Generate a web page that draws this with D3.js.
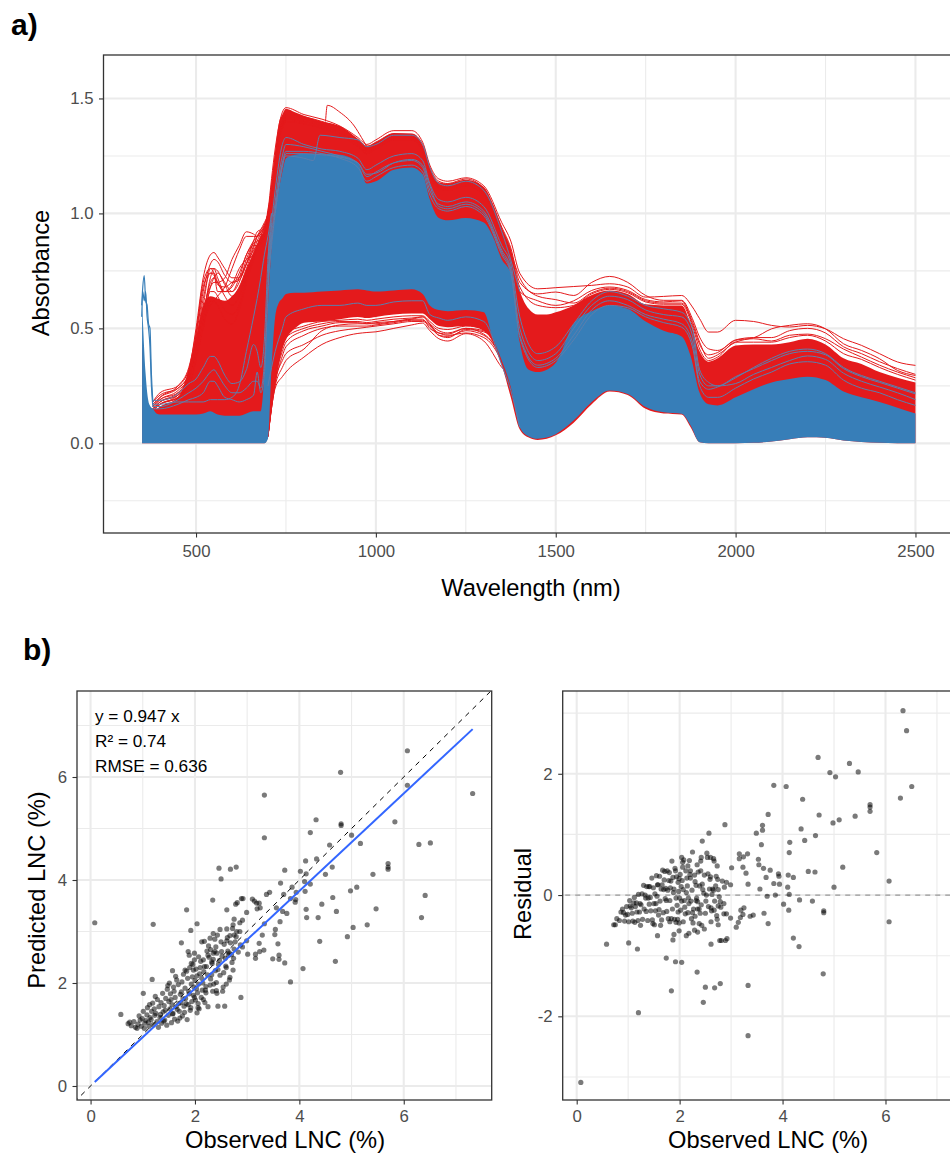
<!DOCTYPE html>
<html><head><meta charset="utf-8">
<script src="https://cdn.jsdelivr.net/npm/d3@7"></script>
<style>html,body{margin:0;padding:0;background:#fff;overflow:hidden}svg{display:block;font-family:"Liberation Sans",Arial,sans-serif}</style>
</head><body><svg id="c" width="950" height="1153"></svg>
<script>
// ---------- panel a: envelopes of the spectra ----------
const wavelength=[350,360,370,380,390,400,450,500,520,540,560,580,600,620,640,660,680,690,700,710,720,730,740,750,775,800,850,900,950,975,1000,1050,1100,1130,1150,1175,1200,1250,1300,1325,1350,1375,1400,1425,1450,1475,1500,1550,1600,1650,1700,1750,1800,1850,1875,1900,1925,1950,2000,2050,2100,2150,2200,2250,2300,2350,2400,2450,2500];
const redTop=[.45,.25,.16,.15,.15,.16,.20,.46,.60,.64,.63,.62,.64,.68,.76,.83,.90,.93,1.03,1.10,1.27,1.39,1.43,1.455,1.44,1.425,1.40,1.38,1.325,1.295,1.31,1.35,1.347,1.295,1.20,1.136,1.13,1.146,1.115,1.04,.94,.84,.665,.585,.56,.56,.57,.60,.645,.665,.65,.605,.60,.60,.52,.40,.355,.37,.425,.43,.43,.44,.455,.43,.37,.345,.31,.285,.265];
const redBase=[0,0,0,0,0,0,0,0,0,0,0,0,0,0,0,0,0,0,.03,.15,.26,.34,.41,.45,.50,.525,.53,.54,.55,.545,.55,.56,.565,.565,.54,.51,.505,.51,.49,.44,.34,.20,.06,.025,.015,.02,.035,.09,.17,.225,.21,.15,.13,.125,.07,.005,0,0,0,.002,.008,.018,.026,.024,.012,.006,.002,0,0];
const blueTop=[.62,.30,.17,.15,.13,.125,.125,.125,.13,.14,.125,.12,.12,.12,.13,.14,.14,.30,.60,.85,1.0,1.10,1.18,1.24,1.255,1.26,1.26,1.255,1.22,1.13,1.14,1.19,1.20,1.17,1.06,.98,.97,.98,.96,.90,.80,.74,.44,.32,.31,.32,.35,.52,.575,.60,.585,.53,.49,.465,.38,.22,.17,.165,.20,.235,.265,.28,.29,.275,.225,.20,.18,.155,.13];
const blueBase=[0,0,0,0,0,0,0,0,0,0,0,0,0,0,0,0,0,0,.02,.33,.55,.61,.63,.65,.655,.655,.66,.665,.67,.665,.66,.665,.67,.65,.60,.58,.575,.58,.57,.46,.36,.245,.07,.03,.02,.025,.04,.10,.18,.23,.215,.158,.135,.129,.078,.005,0,0,0,.002,.008,.018,.026,.024,.012,.006,.002,0,0];
// individual spectra, long range
const traceWl=[700,720,740,750,800,850,900,950,975,1000,1050,1100,1130,1150,1175,1200,1250,1300,1350,1375,1400,1450,1500,1550,1600,1650,1700,1750,1800,1850,1880,1900,1925,1950,2000,2050,2100,2150,2200,2250,2300,2350,2400,2450,2500];
const redHigh1=[1.0,1.28,1.44,1.46,1.43,1.41,1.38,1.33,1.30,1.32,1.36,1.36,1.31,1.21,1.15,1.14,1.155,1.12,.96,.88,.74,.672,.677,.682,.687,.694,.68,.636,.639,.643,.593,.542,.484,.484,.535,.53,.513,.506,.513,.498,.455,.426,.39,.354,.339];
const redHigh2=[.98,1.25,1.40,1.43,1.42,1.40,1.37,1.32,1.29,1.31,1.345,1.345,1.30,1.20,1.14,1.13,1.15,1.11,.94,.85,.70,.65,.658,.643,.70,.726,.70,.643,.622,.622,.542,.462,.411,.404,.448,.459,.498,.513,.52,.498,.433,.404,.368,.317,.295];
const redHigh3=[.96,1.24,1.39,1.42,1.41,1.39,1.36,1.31,1.28,1.30,1.34,1.34,1.29,1.19,1.13,1.12,1.14,1.10,.93,.84,.66,.62,.60,.62,.665,.68,.665,.625,.615,.62,.52,.43,.385,.395,.45,.46,.46,.49,.50,.48,.42,.39,.355,.325,.30];
const redHigh4=[.95,1.23,1.38,1.41,1.40,1.38,1.35,1.30,1.27,1.29,1.33,1.33,1.28,1.18,1.12,1.11,1.13,1.09,.92,.83,.72,.64,.625,.61,.655,.675,.66,.62,.61,.61,.53,.44,.37,.385,.44,.455,.445,.47,.475,.455,.41,.375,.34,.31,.285];
const redHigh5=[.94,1.22,1.37,1.40,1.39,1.37,1.34,1.29,1.26,1.28,1.32,1.32,1.27,1.17,1.11,1.10,1.12,1.08,.91,.82,.68,.60,.59,.60,.65,.67,.655,.615,.605,.605,.51,.41,.36,.375,.44,.44,.44,.46,.47,.445,.39,.365,.33,.30,.275];
const blueHigh1=[.80,1.10,1.30,1.33,1.30,1.28,1.27,1.24,1.19,1.21,1.25,1.26,1.23,1.13,1.06,1.05,1.07,1.03,.86,.78,.55,.39,.42,.52,.62,.66,.64,.60,.585,.57,.50,.32,.265,.25,.26,.30,.33,.36,.38,.365,.305,.27,.245,.22,.19];
const blueHigh2=[.75,1.05,1.25,1.30,1.29,1.27,1.25,1.22,1.16,1.18,1.22,1.23,1.20,1.10,1.04,1.03,1.05,1.01,.84,.76,.50,.36,.39,.50,.60,.64,.625,.58,.56,.55,.47,.30,.25,.25,.29,.325,.36,.39,.40,.385,.325,.29,.265,.24,.215];
const blueHigh3=[.72,1.02,1.22,1.27,1.27,1.26,1.24,1.20,1.14,1.16,1.20,1.21,1.18,1.08,1.02,1.01,1.03,.99,.82,.74,.47,.34,.37,.47,.58,.62,.60,.56,.54,.52,.44,.27,.235,.245,.285,.33,.37,.40,.41,.39,.33,.295,.27,.245,.22];
const blueHigh4=[.70,1.0,1.20,1.26,1.26,1.255,1.245,1.22,1.17,1.175,1.22,1.235,1.21,1.12,1.03,1.02,1.04,1.0,.83,.75,.46,.33,.36,.45,.56,.60,.59,.55,.525,.505,.42,.25,.20,.20,.24,.28,.31,.345,.355,.34,.275,.24,.22,.19,.165];
// low spectra 700-1400 nm
const lowWl=[700,720,740,750,800,850,900,950,975,1000,1050,1100,1130,1150,1175,1200,1250,1300,1350,1375,1400];
const redLow1=[.03,.24,.29,.31,.375,.43,.46,.478,.482,.485,.50,.515,.523,.49,.455,.445,.477,.445,.33,.285,.085];
const redLow2=[.03,.27,.36,.39,.43,.47,.49,.50,.505,.51,.52,.53,.53,.51,.47,.465,.49,.47,.36,.24,.08];
const redLow3=[.03,.29,.42,.46,.50,.52,.53,.53,.525,.53,.54,.545,.55,.52,.49,.48,.50,.49,.37,.25,.08];
const redLow4=[.03,.25,.33,.36,.41,.49,.515,.52,.52,.52,.53,.54,.54,.50,.48,.47,.48,.46,.35,.23,.08];
const redLow5=[.03,.30,.44,.48,.51,.53,.535,.54,.535,.54,.55,.555,.555,.53,.50,.495,.51,.50,.38,.24,.08];
const redLow6=[.03,.26,.38,.42,.47,.50,.51,.51,.51,.515,.525,.535,.535,.515,.48,.475,.50,.475,.36,.23,.08];
const redLow7=[.03,.28,.40,.44,.49,.51,.525,.525,.52,.525,.53,.54,.55,.52,.47,.46,.495,.485,.37,.24,.08];
const blueLow1=[.25,.40,.50,.55,.585,.60,.60,.61,.60,.60,.615,.62,.62,.56,.545,.535,.55,.53,.34,.23,.07];
// stepped spectra
const stepWl=[860,865,900,940,960,975];
const redStep=[1.40,1.47,1.44,1.38,1.33,1.29];
const blueStepWl=[720,750,800,826,845,900,950,975,1000,1050,1100,1130,1150,1175,1200,1250,1300,1350,1400];
const blueStep=[1.0,1.25,1.24,1.23,1.34,1.33,1.32,1.29,1.30,1.34,1.34,1.30,1.20,1.13,1.12,1.14,1.10,.92,.66];
// visible-range spectra
const shortWl=[380,400,450,480,500,520,540,550,560,580,600,620,640,660,670,680,690,700,710];
const redShort=[
[.18,.22,.25,.32,.50,.72,.82,.83,.81,.76,.72,.72,.78,.86,.90,.93,.96,1.0,1.1],
[.18,.21,.24,.30,.46,.66,.78,.80,.79,.73,.70,.71,.78,.88,.92,.93,.95,1.0,1.1],
[.16,.19,.22,.28,.44,.60,.76,.76,.75,.69,.64,.68,.76,.85,.90,.92,.94,.98,1.1],
[.15,.18,.21,.27,.40,.56,.70,.72,.70,.64,.60,.64,.74,.83,.88,.91,.93,.98,1.08],
[.15,.17,.20,.26,.38,.54,.66,.66,.64,.58,.56,.60,.72,.82,.86,.90,.92,.97,1.07],
[.14,.17,.20,.25,.36,.50,.62,.62,.60,.54,.52,.58,.70,.80,.85,.88,.90,.96,1.05],
[.15,.17,.21,.27,.38,.52,.60,.62,.64,.68,.76,.84,.90,.90,.90,.92,.94,.98,1.1],
[.17,.20,.24,.30,.42,.58,.68,.70,.70,.72,.80,.86,.92,.91,.90,.91,.94,.98,1.1],
[.16,.19,.23,.29,.43,.63,.74,.74,.70,.66,.68,.74,.82,.88,.90,.92,.95,1.0,1.1],
[.15,.18,.22,.30,.47,.68,.74,.73,.69,.68,.70,.72,.78,.84,.86,.88,.93,.98,1.08],
[.14,.17,.20,.25,.37,.52,.68,.72,.74,.70,.66,.72,.82,.86,.86,.87,.91,.97,1.07],
[.16,.20,.25,.33,.48,.70,.76,.74,.66,.66,.69,.76,.80,.82,.86,.90,.94,.99,1.1],
[.15,.18,.21,.26,.39,.55,.72,.76,.72,.66,.66,.70,.80,.87,.88,.89,.92,.97,1.07]];
const blueShort=[
[.187,.187,.216,.26,.28,.33,.378,.378,.36,.296,.26,.267,.32,.43,.40,.33,.45,.80,1.0],
[.16,.16,.19,.22,.24,.27,.31,.32,.30,.25,.22,.22,.24,.27,.27,.24,.35,.70,.95],
[.15,.15,.17,.19,.20,.22,.27,.27,.25,.20,.19,.18,.19,.21,.31,.22,.30,.65,.90],
[.17,.17,.18,.18,.18,.18,.19,.19,.19,.19,.20,.25,.40,.55,.63,.72,.82,.90,1.0]];
// UV spike
const spikeWl=[349,352,356,360,364,368,372,376,380];
const spikeA=[.60,.68,.73,.62,.60,.52,.50,.30,.18];
const spikeB=[.55,.66,.62,.66,.55,.50,.42,.25,.16];

// ---------- panel b: scatter data ----------
const observed=[6.07,4.79,6.07,7.32,3.33,4.32,5.83,4.80,4.80,4.21,5.00,3.33,5.17,6.29,6.51,4.58,4.33,4.12,5.70,5.70,5.70,4.63,2.46,2.68,2.79,2.50,3.72,4.02,4.13,4.50,5.41,3.64,4.10,4.21,3.86,4.11,3.94,3.43,3.37,3.70,5.10,4.98,6.41,4.64,3.83,3.93,3.92,2.34,2.81,2.78,2.89,2.92,3.10,3.14,3.18,3.23,3.19,3.25,4.43,3.56,4.13,5.47,4.71,3.68,3.76,2.61,1.84,2.99,6.34,4.14,4.36,2.75,2.91,
.08,1.20,2.04,5.30,5.03,4.92,4.39,4.69,4.07,3.83,2.88,3.72,3.61,3.61,3.49,3.32,3.24,3.16,3.16,3.01,3.59,3.53,3.54,3.23,2.99,3.29,3.33,3.63,1.92,1.74,2.13,2.18,2.48,2.35,2.43,2.29,2.38,2.61,2.67,2.75,2.80,2.86,2.72,2.86,2.73,2.61,
2.25,2.44,2.57,2.04,2.06,2.16,2.53,2.54,2.41,2.34,2.21,2.20,2.66,2.67,2.41,2.59,2.73,2.74,2.64,2.51,2.38,2.32,2.16,2.25,2.30,2.35,1.99,1.87,1.89,1.99,1.93,2.07,2.22,1.81,1.97,1.57,1.18,1.01,.58,
.72,.78,.75,.86,.83,.91,.89,.95,.93,.97,1.01,1.04,.99,1.03,1.08,1.06,1.12,1.09,1.14,1.11,1.17,1.13,1.20,1.16,1.23,1.19,1.27,1.22,1.30,1.25,1.33,1.28,1.36,1.31,1.24,1.39,1.35,1.42,1.38,1.46,1.41,1.34,1.49,1.44,1.52,1.47,1.40,1.55,1.50,1.43,1.58,1.53,1.61,1.48,1.56,1.64,1.59,1.51,1.67,1.62,1.70,1.54,1.65,1.73,1.60,1.76,1.68,1.57,1.79,1.63,1.72,1.82,1.69,1.85,1.75,1.66,1.88,1.78,1.91,1.81,1.71,1.94,1.84,1.74,1.97,1.87,1.77,2.00,1.90,1.80,2.03,1.93,1.83,2.06,1.96,1.86,2.09,1.99,1.89,2.12,2.02,1.92,2.15,2.05,1.95,2.18,2.08,1.98,2.21,2.11,2.01,2.24,2.14,2.04,2.27,2.17,2.07,2.30,2.19,2.10,2.33,2.23,2.13,2.36,2.26,2.39,2.29,2.42,2.32,2.45,2.35,2.48,2.40,2.52,2.44,2.56,2.47,2.60,2.50,2.63,2.55,2.68,2.58,2.71,2.62,2.75,2.66,2.79,2.70,2.83,2.77,2.87,2.91,2.42,2.60];
const predicted=[6.51,6.09,5.84,5.68,5.65,5.17,5.13,5.09,5.06,4.92,4.87,4.82,4.71,4.69,4.72,4.68,4.41,4.37,4.32,4.25,4.21,4.25,4.23,4.21,4.25,4.02,4.19,4.17,4.12,4.11,4.11,3.94,3.97,3.92,3.86,3.78,3.76,3.76,3.72,3.72,3.86,3.79,3.70,3.66,3.64,3.62,3.57,3.61,3.56,3.53,3.64,3.64,3.63,3.59,3.55,3.55,3.44,3.46,3.53,3.46,3.43,3.44,3.39,3.39,3.35,3.42,3.42,3.37,3.27,3.27,3.27,3.24,3.22,
3.17,3.14,3.15,3.13,3.08,2.90,2.81,2.42,2.28,2.02,1.72,2.39,2.46,2.54,2.47,2.64,2.61,2.48,2.56,2.56,2.76,2.94,3.04,2.77,2.82,2.93,3.15,3.19,3.02,2.78,2.80,2.81,3.04,2.96,2.93,2.87,2.85,2.82,2.92,2.93,3.00,3.00,3.06,3.17,3.13,3.05,
1.54,1.55,1.55,1.42,1.52,1.68,1.84,1.92,1.85,1.84,1.81,1.86,2.06,2.11,2.01,2.33,2.25,2.48,2.54,2.61,2.61,2.41,2.45,2.54,2.65,2.58,2.58,2.61,2.54,2.45,2.38,2.51,2.32,2.25,2.25,2.24,2.07,1.80,1.39,
1.21,1.17,1.24,1.14,1.25,1.20,1.12,1.28,1.36,1.16,1.45,1.22,1.31,1.12,1.38,1.27,1.16,1.52,1.33,1.24,1.45,1.58,1.19,1.29,1.37,1.61,1.25,1.50,1.14,1.41,1.33,1.68,1.22,1.54,1.74,1.44,1.62,1.28,1.80,1.18,1.56,1.39,1.37,1.70,1.50,1.88,1.26,1.23,1.64,1.47,1.41,1.79,1.30,1.95,1.58,1.54,1.92,2.00,1.26,1.72,1.45,1.68,2.06,1.62,1.84,1.36,1.97,1.40,1.55,2.13,1.78,1.70,1.60,1.29,2.02,1.49,1.84,2.17,1.47,1.90,1.32,1.64,2.23,1.83,1.76,1.58,1.69,2.05,2.30,1.43,1.89,1.98,1.60,1.60,2.36,2.09,2.18,1.72,1.79,1.72,2.27,1.52,2.00,1.81,2.12,2.32,1.50,1.92,1.93,2.42,1.67,2.16,1.86,2.14,2.50,2.22,1.98,2.08,1.62,2.30,2.38,2.62,2.09,1.98,2.72,2.24,1.96,2.58,2.16,2.36,2.46,2.15,2.70,2.52,2.26,2.75,2.44,2.30,2.80,2.62,2.20,2.78,2.48,2.40,2.88,2.66,2.58,2.90,2.55,2.60,2.80,2.74,2.70,1.80,1.98];
const residual=[-.44,-1.30,.23,1.64,-2.32,-.85,.70,-.29,-.26,-.71,.13,-1.49,.46,1.60,1.79,-.10,-.08,-.25,1.38,1.45,1.49,.38,-1.77,-1.53,-1.46,-1.52,-.47,-.15,.01,.39,1.30,-.30,.13,.29,0,.33,.18,-.33,-.35,-.02,1.24,1.19,2.71,.98,.19,.31,.35,-1.27,-.75,-.75,-.75,-.72,-.53,-.45,-.37,-.32,-.25,-.21,.90,.10,.70,2.03,1.32,.29,.41,-.81,-1.58,-.38,3.04,.87,1.09,-.49,-.31,
-3.09,-1.94,-1.11,2.17,1.95,2.02,1.58,2.27,1.79,1.81,1.16,1.33,1.15,1.07,1.02,.68,.63,.68,.60,.45,.83,.59,.50,.46,.17,.36,.18,.44,-1.10,-1.04,-.67,-.63,-.56,-.61,-.50,-.58,-.47,-.21,-.25,-.18,-.20,-.14,-.34,-.31,-.40,-.44,
.71,.89,1.02,.62,.54,.48,.69,.62,.56,.50,.40,.34,.60,.56,.40,.26,.48,.26,.10,-.10,-.23,-.09,-.29,-.29,-.35,-.23,-.59,-.74,-.65,-.46,-.45,-.44,-.10,-.44,-.28,-.67,-.89,-.79,-.81,
-.49,-.39,-.49,-.28,-.42,-.29,-.23,-.33,-.43,-.19,-.44,-.18,-.32,-.09,-.30,-.21,-.04,-.43,-.19,-.13,-.28,-.45,.01,-.13,-.14,-.42,.02,-.28,.16,-.16,0,-.40,.14,-.23,-.50,-.05,-.27,.14,-.42,.28,-.15,-.05,.12,-.26,.02,-.41,.14,.32,-.14,-.04,.17,-.26,.31,-.47,-.02,.10,-.33,-.49,.41,-.10,.25,-.14,-.41,.11,-.24,.40,-.29,.17,.24,-.50,-.06,.12,.09,.56,-.27,.17,.04,-.39,.44,-.09,.39,.30,-.39,-.09,.21,.29,.08,-.05,-.40,.37,.14,-.05,.23,.46,-.40,-.23,-.09,.27,.10,.40,-.25,.40,.15,.24,-.17,-.14,.58,.06,.28,-.31,.34,.08,.28,-.10,-.23,-.05,.09,.22,.57,-.20,-.05,-.39,.04,.38,-.46,.15,.33,-.16,.16,.09,-.11,.33,-.30,0,.18,-.19,.03,.30,-.30,.01,.35,-.10,.10,.31,-.26,.09,.08,-.11,.15,.23,-.03,.13,.21,.62,.62];
const fitObs=[.08,7.32];
const fitPred=[.076,6.93];
const oneToOne=[-1,9];

// ---------- ticks and labels ----------
const spectraXTicks=[500,1000,1500,2000,2500], spectraXMinor=[750,1250,1750,2250];
const spectraYTicks=[0,.5,1,1.5], spectraYMinor=[-.25,.25,.75,1.25];
const lncTicks=[0,2,4,6], lncMinor=[1,3,5,7];
const resTicks=[-2,0,2], resMinor=[-3,-1,1,3];
const statLines=["y = 0.947 x","R\u00b2 = 0.74","RMSE = 0.636"];

const RED="#E41A1C", BLUE="#377EB8", TRACE="#5b7fae";
const TITLE=23.7;
const svg=d3.select("#c");
const defs=svg.append("defs");
let clipId=0;

function panel(o){
  const x=d3.scaleLinear().domain(o.xd).range([o.l,o.r]);
  const y=d3.scaleLinear().domain(o.yd).range([o.b,o.t]);
  const id="clip"+(clipId++);
  defs.append("clipPath").attr("id",id).append("rect").attr("x",o.l).attr("y",o.t).attr("width",o.r-o.l).attr("height",o.b-o.t);
  const g=svg.append("g");
  const gl=(vals,w,isX)=>g.append("g").selectAll("line").data(vals).join("line")
    .attr("x1",d=>isX?x(d):o.l).attr("x2",d=>isX?x(d):o.r)
    .attr("y1",d=>isX?o.b:y(d)).attr("y2",d=>isX?o.t:y(d))
    .attr("stroke","#ebebeb").attr("stroke-width",w);
  gl(o.xMinor,1.1,true); gl(o.yMinor,1.1,false);
  gl(o.xTicks,2.1,true); gl(o.yTicks,2.1,false);
  const body=g.append("g").attr("clip-path",`url(#${id})`);
  const ax=d3.axisBottom(x).tickValues(o.xTicks).tickSize(4.5).tickPadding(o.pad).tickFormat(o.xf||d3.format("d"));
  const ay=d3.axisLeft(y).tickValues(o.yTicks).tickSize(4.5).tickPadding(5.5).tickFormat(o.yf||d3.format("d"));
  const after=()=>{
    const a1=svg.append("g").attr("transform",`translate(0,${o.b})`).call(ax);
    const a2=svg.append("g").attr("transform",`translate(${o.l},0)`).call(ay);
    [a1,a2].forEach(a=>{a.select(".domain").remove();
      a.selectAll("line").attr("stroke","#333").attr("stroke-width",1.1);
      a.selectAll("text").attr("fill","#4d4d4d").attr("font-size",16.8).attr("font-family","'Liberation Sans',Arial,sans-serif");});
    svg.append("rect").attr("x",o.l).attr("y",o.t).attr("width",o.r-o.l).attr("height",o.b-o.t)
      .attr("fill","none").attr("stroke","#333").attr("stroke-width",1.3);
  };
  return {x,y,body,after};
}
function label(t,x,y,size,opt={}){
  const e=svg.append("text").text(t).attr("font-size",size).attr("fill",opt.fill||"#000").attr("text-anchor",opt.anchor||"middle").attr("font-weight",opt.weight||"normal");
  if(opt.rot) e.attr("transform",`translate(${x},${y}) rotate(-90)`); else e.attr("x",x).attr("y",y);
}

// panel a
const pa=panel({l:103.5,r:1000,t:55,b:533,xd:[242.8,2735],yd:[-.39,1.689],pad:7.5,
  xTicks:spectraXTicks,xMinor:spectraXMinor,yTicks:spectraYTicks,yMinor:spectraYMinor,
  yf:d3.format(".1f")});
const sx=pa.x, sy=pa.y;
const area=d3.area().x((d,i)=>sx(wavelength[i])).y0(d=>sy(d[0])).y1(d=>sy(d[1])).curve(d3.curveMonotoneX);
const traceLine=(wl)=>d3.line().x((d,i)=>sx(wl[i])).y(d=>sy(d)).curve(d3.curveMonotoneX);
const draw=(wl,v,c,w=1)=>pa.body.append("path").attr("d",traceLine(wl)(v)).attr("fill","none").attr("stroke",c).attr("stroke-width",w);
pa.body.append("path").datum(redBase.map((b,i)=>[b,redTop[i]])).attr("d",area).attr("fill",RED);
redShort.forEach(v=>draw(shortWl,v,RED));
[redHigh1,redHigh2,redHigh3,redHigh4,redHigh5].forEach(v=>draw(traceWl,v,RED));
[redLow1,redLow2,redLow3,redLow4,redLow5,redLow6,redLow7].forEach(v=>draw(lowWl,v,RED));
draw(stepWl,redStep,RED);
pa.body.append("path").datum(blueBase.map((b,i)=>[b,blueTop[i]])).attr("d",area).attr("fill",BLUE);
[blueHigh1,blueHigh2,blueHigh3,blueHigh4].forEach(v=>draw(traceWl,v,TRACE));
draw(lowWl,blueLow1,TRACE);
draw(blueStepWl,blueStep,TRACE);
blueShort.forEach(v=>draw(shortWl,v,TRACE));
draw(spikeWl,spikeA,BLUE,1.2); draw(spikeWl,spikeB,BLUE,1.2);
pa.after();
label("a)",11,34.5,30,{anchor:"start",weight:"bold"});
label("b)",23,660,30,{anchor:"start",weight:"bold"});
label("Absorbance",49,273,TITLE,{rot:true});
label("Wavelength (nm)",531,596,TITLE);

// left scatter
const pb=panel({l:77,r:491.7,t:691,b:1100,xd:[-.26,7.685],yd:[-.272,7.67],pad:5.5,
  xTicks:lncTicks,xMinor:lncMinor,yTicks:lncTicks,yMinor:lncMinor});
pb.body.selectAll("circle").data(observed).join("circle")
  .attr("cx",d=>pb.x(d)).attr("cy",(d,i)=>pb.y(predicted[i])).attr("r",2.6).attr("fill","#000").attr("opacity",.52);
pb.body.append("path").attr("d",d3.line().x(d=>pb.x(d)).y(d=>pb.y(d))(oneToOne)).attr("stroke","#000").attr("stroke-width",1).attr("stroke-dasharray","5,5").attr("fill","none");
pb.body.append("path").attr("d",d3.line().x(d=>pb.x(d)).y((d,i)=>pb.y(fitPred[i]))(fitObs)).attr("stroke","#3366FF").attr("stroke-width",2).attr("fill","none");
pb.after();
statLines.forEach((t,i)=>label(t,95,721.7+i*25,17.2,{anchor:"start"}));
label("Predicted LNC (%)",45,890,TITLE,{rot:true});
label("Observed LNC (%)",285,1147.5,TITLE);

// right scatter
const pc=panel({l:562.7,r:1000,t:691,b:1100,xd:[-.272,8.225],yd:[-3.38,3.365],pad:5.5,
  xTicks:lncTicks,xMinor:lncMinor,yTicks:resTicks,yMinor:resMinor,
  yf:d=>d<0?"-"+Math.abs(d):d});
pc.body.append("path").attr("d",d3.line().x(d=>pc.x(d)).y(()=>pc.y(0))(oneToOne)).attr("stroke","#999").attr("stroke-width",1.2).attr("stroke-dasharray","5,5").attr("fill","none");
pc.body.selectAll("circle").data(observed).join("circle")
  .attr("cx",d=>pc.x(d)).attr("cy",(d,i)=>pc.y(residual[i])).attr("r",2.6).attr("fill","#000").attr("opacity",.52);
pc.after();
label("Residual",531,894,TITLE,{rot:true});
label("Observed LNC (%)",768,1147.5,TITLE);
</script></body></html>
